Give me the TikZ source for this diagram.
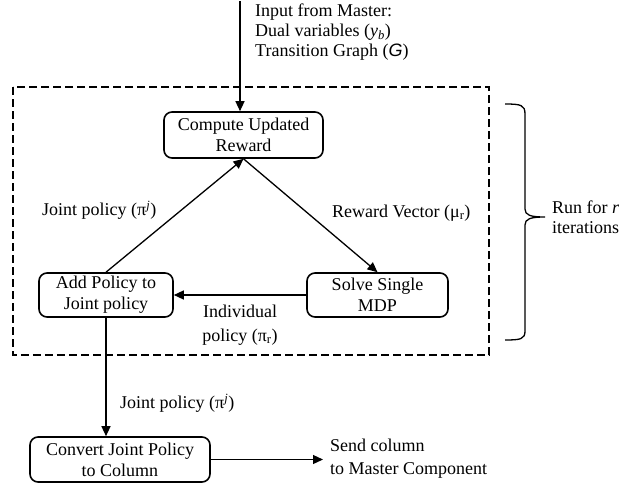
\documentclass[tikz,border=0pt]{standalone}
\usepackage{fontspec}
\setmainfont{Liberation Serif}
\newfontfamily\arialfont{Liberation Sans}
\usetikzlibrary{arrows.meta}

\begin{document}
\begin{tikzpicture}[x=1pt,y=-1pt,
  font=\fontsize{18}{21}\selectfont,
  proc/.style={draw, line width=1.6pt, rounded corners=8pt, align=center, inner sep=0pt},
  flow/.style={line width=1.3pt, -{Triangle[length=10pt,width=9pt]}},
  lbl/.style={inner sep=0pt, align=left, anchor=west}]
\useasboundingbox (0,0) rectangle (625,485);

% loop region
\draw[line width=2.2pt, dash pattern=on 8pt off 4pt] (13,87) rectangle (489,355);

% process boxes
\node[proc, minimum width=159pt, minimum height=46pt] (cur) at (243.5,135) {Compute Updated\\Reward};
\node[proc, minimum width=134pt, minimum height=44pt] (add) at (106,295) {Add Policy to\\Joint policy};
\node[proc, minimum width=141pt, minimum height=44pt] (mdp) at (377.5,295) {Solve Single\\MDP};
\node[proc, minimum width=180pt, minimum height=45pt] (conv) at (120,459.5) {Convert Joint Policy\\to Column};

% free ends
\coordinate (src) at (240,1);
\coordinate (snd) at (323,458);

% texts
\node[lbl, font=\fontsize{18}{20}\selectfont] (inp) at (255,32) {Input from Master:\\Dual variables (\textit{y}\textsubscript{\textit{b}})\\Transition Graph ({\arialfont\itshape G})};
\node[lbl] (jp1) at (42,210) {Joint policy (π\textsuperscript{\textit{j}})};
\node[lbl] (rv) at (332,213) {Reward Vector (μ\textsubscript{r})};
\node[inner sep=0pt, align=center, font=\fontsize{18}{24}\selectfont] (ind) at (240,325) {Individual\\policy (π\textsubscript{r})};
\node[lbl] (jp2) at (120,403) {Joint policy (π\textsuperscript{\textit{j}})};
\node[lbl, font=\fontsize{18}{23}\selectfont] (sc) at (330,458.5) {Send column\\to Master Component};
\node[lbl, font=\fontsize{18}{20}\selectfont] (run) at (552,217) {Run for \textit{r}\\iterations};

% connectors
\draw[flow] (src) -- (src |- cur.north);
\draw[flow] (add.north) -- (cur.south);
\draw[flow] (cur.south) -- (mdp.north);
\draw[flow] (mdp.west) -- (add.east);
\draw[flow] (add.south) -- (add.south |- conv.north);
\draw[flow] (conv.east) -- (conv.east -| snd);

% brace around the loop
\draw[line width=1.3pt]
  (505,104) .. controls (521,104) and (525,105) .. (525,114)
  -- (525,209) .. controls (525,215) and (530,217) .. (545,217)
  .. controls (530,217) and (525,219) .. (525,225)
  -- (525,331) .. controls (525,339) and (521,340) .. (505,340);
\end{tikzpicture}
\end{document}
